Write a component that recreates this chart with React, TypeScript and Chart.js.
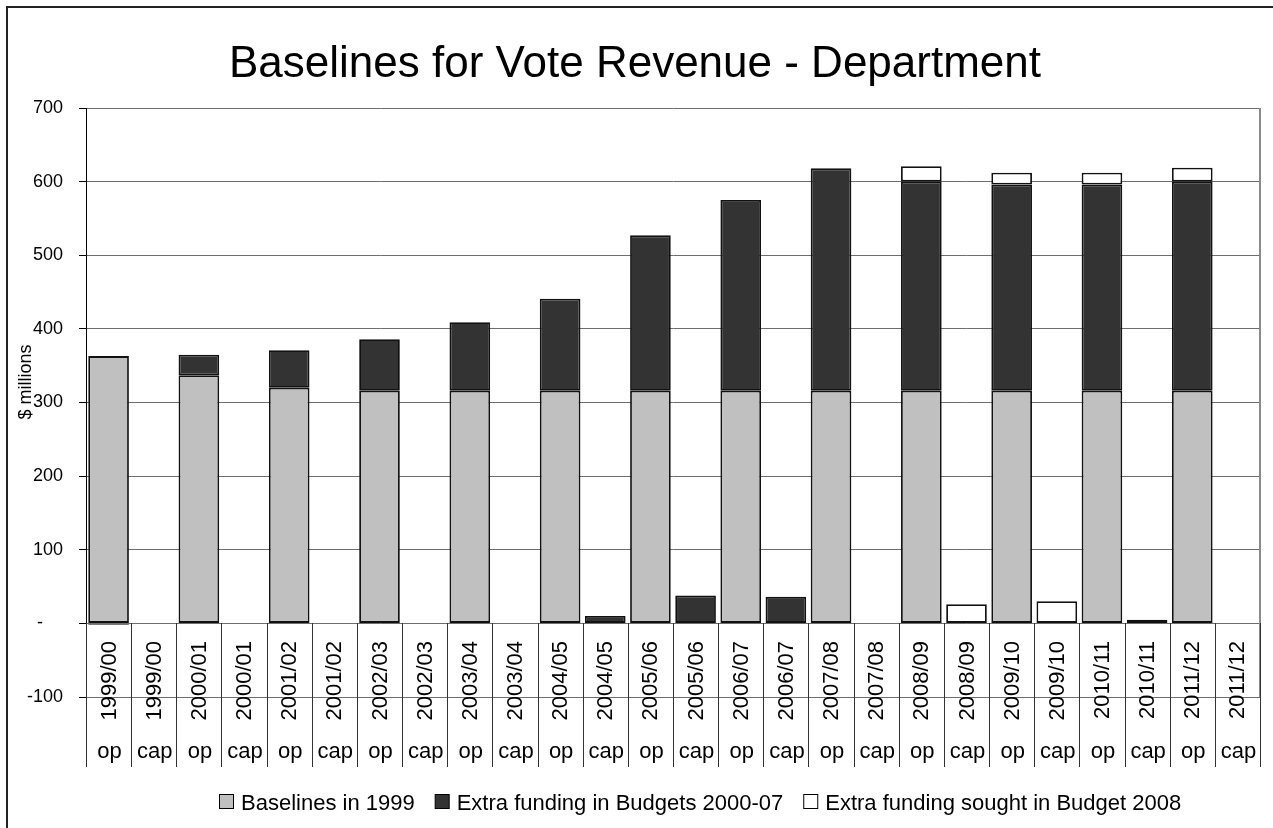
import React, { useEffect, useRef } from "react";
import { Chart, registerables } from "chart.js";

Chart.register(...registerables);

const FONT = '"Liberation Sans", Arial, sans-serif';

const TITLE = "Baselines for Vote Revenue - Department";
const Y_TITLE = "$ millions";
const YEARS = ["1999/00", "2000/01", "2001/02", "2002/03", "2003/04", "2004/05", "2005/06", "2006/07", "2007/08", "2008/09", "2009/10", "2010/11", "2011/12"];
const TYPES = ["op", "cap"];
const SERIES_NAMES = ["Baselines in 1999", "Extra funding in Budgets 2000-07", "Extra funding sought in Budget 2008"];
const SERIES_COLORS = ["#C0C0C0", "#333333", "#FFFFFF"];

// order: 1999/00 op, 1999/00 cap, 2000/01 op, 2000/01 cap, ...
const BASELINES = [363, null, 337, null, 320, null, 316, null, 316, null, 316, null, 316, null, 316, null, 316, null, 316, null, 316, null, 316, null, 316, null];
const EXTRA_FUNDING = [-2, null, 28, null, 51, null, 70, null, 93, null, 125, 10, 211, 38, 259, 36, 302, null, 284, null, 280, null, 280, null, 284, null];
const EXTRA_SOUGHT = [null, null, null, null, null, null, null, null, null, null, null, null, null, null, null, null, null, null, 21, 26, 16, 30, 16, 5, 19, null];
const Y_MIN = -100;
const Y_MAX = 700;
const Y_STEP = 100;

const CATEGORIES: string[] = [];
const CAT_YEAR: string[] = [];
const CAT_TYPE: string[] = [];
YEARS.forEach((yr) => {
  TYPES.forEach((t) => {
    CATEGORIES.push(yr + " " + t);
    CAT_YEAR.push(yr);
    CAT_TYPE.push(t);
  });
});

const line = (ctx: CanvasRenderingContext2D, x1: number, y1: number, x2: number, y2: number) => {
  ctx.beginPath();
  ctx.moveTo(x1, y1);
  ctx.lineTo(x2, y2);
  ctx.stroke();
};

const decorPlugin = {
  id: "decor",
  afterDraw(chart: any) {
    const ctx: CanvasRenderingContext2D = chart.ctx;
    const { right, top, bottom } = chart.chartArea;
    const xs = chart.scales.x;
    const ys = chart.scales.y;
    const y0 = Math.round(ys.getPixelForValue(0));
    const n = CATEGORIES.length;
    const step = xs.getPixelForValue(1) - xs.getPixelForValue(0);
    const sepBottom = 767;
    ctx.save();

    // plot area right border
    ctx.strokeStyle = "#8a8a8a";
    ctx.lineWidth = 2;
    line(ctx, Math.round(right), top, Math.round(right), bottom);

    // category separators
    ctx.strokeStyle = "#333";
    ctx.lineWidth = 1;
    for (let i = 0; i <= n; i++) {
      const bx = i < n ? xs.getPixelForValue(i) - step / 2 : xs.getPixelForValue(n - 1) + step / 2;
      const px = Math.round(bx) + 0.5;
      line(ctx, px, y0, px, sepBottom);
    }

    // year labels (rotated)
    ctx.fillStyle = "#000";
    ctx.font = `22px ${FONT}`;
    for (let i = 0; i < n; i++) {
      const cx = xs.getPixelForValue(i);
      ctx.save();
      ctx.translate(cx + 1, y0 + 18);
      ctx.rotate(-Math.PI / 2);
      ctx.textAlign = "right";
      ctx.textBaseline = "middle";
      ctx.fillText(CAT_YEAR[i], 0, 0);
      ctx.restore();
    }

    // op / cap labels
    ctx.textAlign = "center";
    ctx.textBaseline = "alphabetic";
    for (let i = 0; i < n; i++) {
      const cx = xs.getPixelForValue(i);
      ctx.fillText(CAT_TYPE[i], cx + 1, 758);
    }

    // y axis title
    ctx.save();
    ctx.font = `18px ${FONT}`;
    ctx.translate(31, 382);
    ctx.rotate(-Math.PI / 2);
    ctx.textAlign = "center";
    ctx.textBaseline = "alphabetic";
    ctx.fillText(Y_TITLE, 0, 0);
    ctx.restore();

    // chart title
    ctx.font = `44px ${FONT}`;
    ctx.textAlign = "center";
    ctx.textBaseline = "alphabetic";
    ctx.fillText(TITLE, 635, 77);

    // legend
    ctx.font = `22px ${FONT}`;
    ctx.textAlign = "left";
    let lx = 219;
    const boxTop = 794;
    const boxSize = 14;
    SERIES_NAMES.forEach((name, k) => {
      ctx.fillStyle = SERIES_COLORS[k];
      ctx.fillRect(lx + 0.5, boxTop + 0.5, boxSize, boxSize);
      ctx.strokeStyle = "#000";
      ctx.lineWidth = 1;
      ctx.strokeRect(lx + 0.5, boxTop + 0.5, boxSize, boxSize);
      ctx.fillStyle = "#000";
      const tx = lx + boxSize + 8;
      ctx.fillText(name, tx, 810);
      lx = tx + ctx.measureText(name).width + 20;
    });

    // outer frame
    ctx.strokeStyle = "#222";
    ctx.lineWidth = 2;
    line(ctx, 7, 6, 7, 828);
    line(ctx, 6, 7, 1273, 7);

    ctx.restore();
  },
};

export default function App() {
  const ref = useRef<HTMLCanvasElement | null>(null);
  useEffect(() => {
    if (!ref.current) return;
    const mk = (label: string, data: (number | null)[], color: string) => ({
      label,
      data,
      backgroundColor: color,
      borderColor: "#111",
      borderWidth: 1.8,
      borderSkipped: false,
      barPercentage: 0.9,
      categoryPercentage: 1.0,
    });
    const chart = new Chart(ref.current, {
      type: "bar",
      data: {
        labels: CATEGORIES,
        datasets: [
          mk(SERIES_NAMES[0], BASELINES, SERIES_COLORS[0]),
          mk(SERIES_NAMES[1], EXTRA_FUNDING, SERIES_COLORS[1]),
          mk(SERIES_NAMES[2], EXTRA_SOUGHT, SERIES_COLORS[2]),
        ] as any,
      },
      options: {
        animation: false,
        responsive: false,
        devicePixelRatio: 1,
        layout: { padding: { top: 108, bottom: 131, left: 0, right: 13 } },
        plugins: {
          legend: { display: false },
          title: { display: false },
          tooltip: { enabled: false },
        },
        scales: {
          x: {
            stacked: true,
            display: false,
            offset: true,
          },
          y: {
            stacked: true,
            min: Y_MIN,
            max: Y_MAX,
            afterFit: (scale: any) => {
              scale.width = 86;
            },
            ticks: {
              stepSize: Y_STEP,
              color: "#000",
              font: { family: FONT, size: 18 },
              padding: 16,
              callback: (v: any) => (Number(v) === 0 ? "-    " : String(v)),
            },
            grid: {
              color: "#6e6e6e",
              lineWidth: 1,
              tickLength: 7,
              tickColor: "#000",
            },
            border: { color: "#000", width: 1 },
          },
        },
      } as any,
      plugins: [decorPlugin],
    });
    return () => chart.destroy();
  }, []);
  return (
    <div style={{ position: "absolute", left: 0, top: 0, width: 1273, height: 828, background: "#fff" }}>
      <canvas ref={ref} width={1273} height={828} style={{ display: "block", width: 1273, height: 828 }} />
    </div>
  );
}
